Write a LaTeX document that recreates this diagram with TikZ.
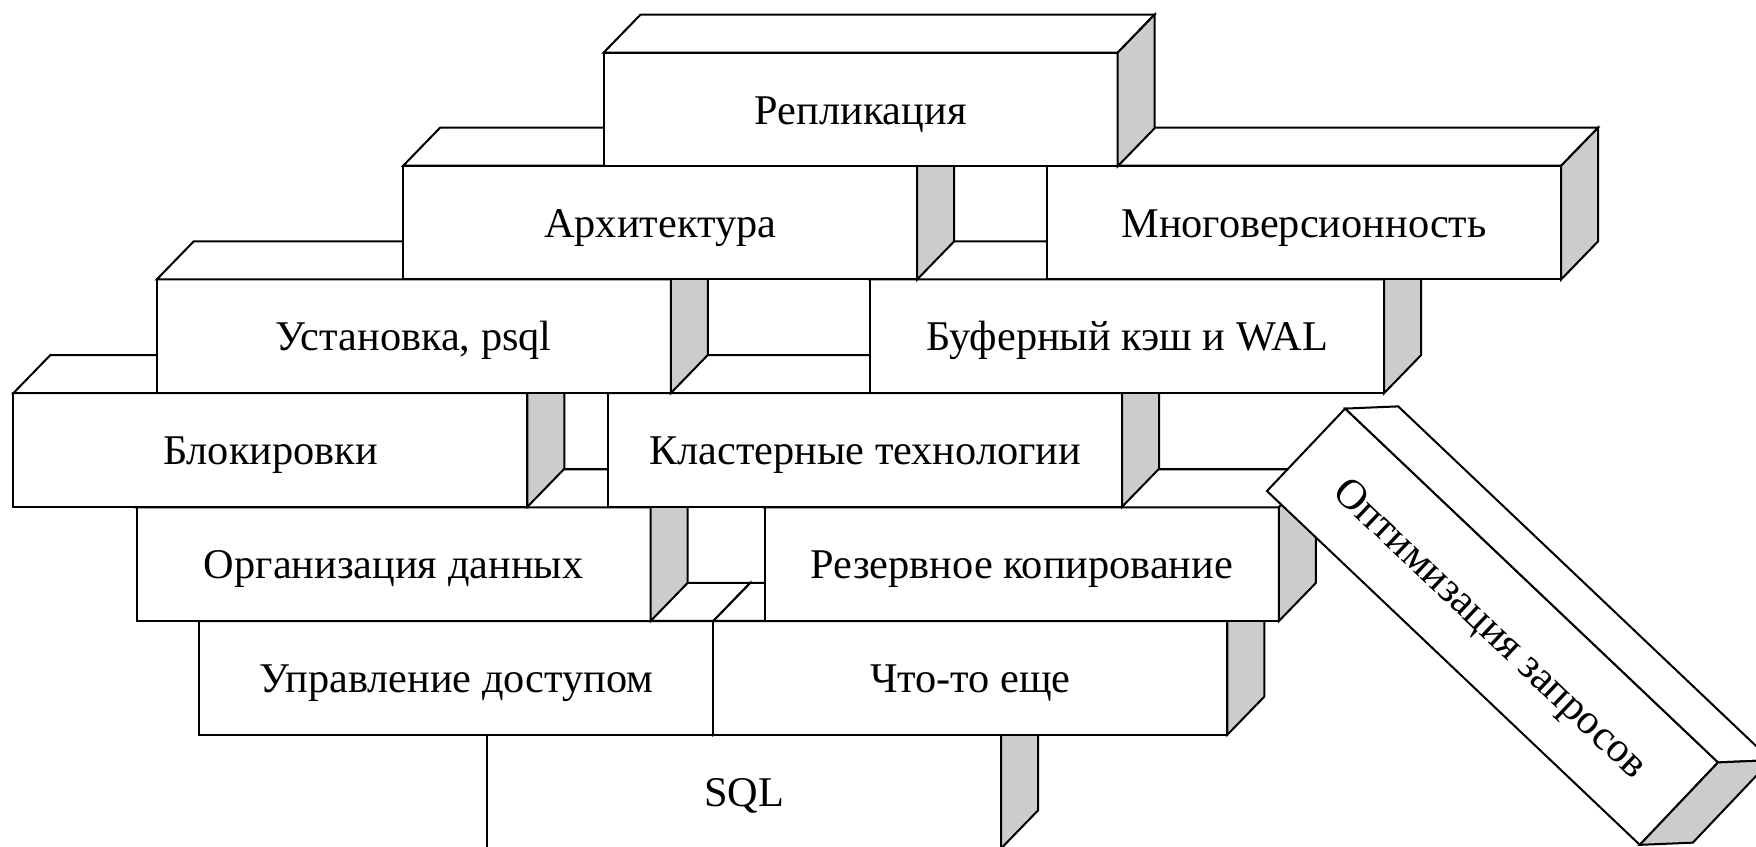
\documentclass[tikz,border=0pt]{standalone}
\usepackage{fontspec}
\setmainfont{Liberation Serif}
\tikzset{
  brickfront/.style={draw, fill=white, line width=1.8pt, rectangle, minimum width=459pt,
    minimum height=101.5pt, inner sep=0pt, outer sep=0pt, anchor=north west,
    text height=26pt, text depth=0pt,
    font=\fontsize{37.8}{40}\selectfont},
  brickface/.style={draw, fill=white, line width=1.8pt},
  brickside/.style={draw, fill=black!20, line width=1.8pt},
}
\newcommand{\brickfaces}[1]{%
  \path[brickface] (#1.north west) -- ++(33,-34) -- ++(459,0) -- (#1.north east) -- cycle;
  \path[brickside] (#1.north east) -- ++(33,-34) -- ++(0,101.5) -- (#1.south east) -- cycle;
}
\newcommand{\brick}[4]{%
  \node[brickfront] (#1) at (#2,#3) {#4};
  \brickfaces{#1}
}
\begin{document}
\begin{tikzpicture}[x=1pt,y=-1pt]
\path[use as bounding box] (0,0) rectangle (1568,756);
\clip (0,0) rectangle (1568,756);
% row 6
\brick{sql}{435}{656}{SQL}
% row 5
\brick{access}{178}{554.5}{Управление доступом}
\brick{other}{637}{554.5}{Что-то еще}
% row 4
\brick{org}{122}{453}{Организация данных}
\brick{backup}{683}{453}{Резервное копирование}
% row 3
\brick{locks}{12}{351}{Блокировки}
\brick{cluster}{543}{351}{Кластерные технологии}
% row 2
\brick{install}{140}{249.5}{Установка, psql}
\brick{buffer}{777}{249.5}{Буферный кэш и WAL}
% row 1
\brick{arch}{360}{148}{Архитектура}
\brick{mvcc}{935}{148}{Многоверсионность}
% row 0
\brick{repl}{539}{47}{Репликация}
% rotated brick
\begin{scope}[shift={(1332.7,559.6)}, rotate=-43.5]
  \node[brickfront, anchor=center, transform shape] (optim) at (0,0) {Оптимизация запросов};
  \brickfaces{optim}
\end{scope}
\end{tikzpicture}
\end{document}
